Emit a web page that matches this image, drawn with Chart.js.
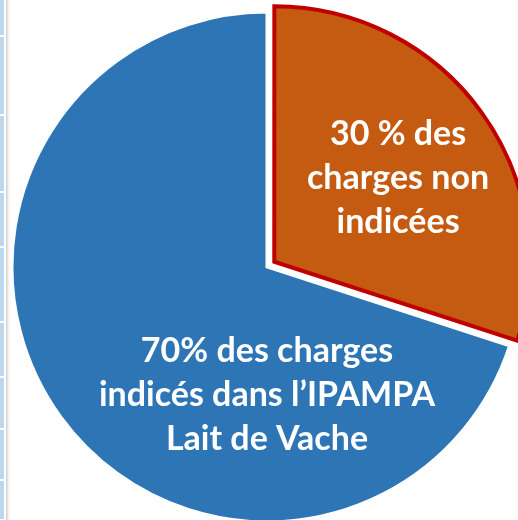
<!DOCTYPE html>
<html>
<head>
<meta charset="utf-8">
<script src="https://cdn.jsdelivr.net/npm/chart.js@4.4.1/dist/chart.umd.min.js"></script>
<style>
  html, body { margin: 0; padding: 0; background: #ffffff; overflow: hidden; }
  #wrap { position: relative; width: 518px; height: 520px; }
  #strip { position: absolute; left: 0; top: 0; width: 4px; height: 520px; }
  .seg { position: absolute; left: 0; width: 4px; background: #BDD7EE; }
  #shadow { position: absolute; left: 6px; top: 0; width: 5px; height: 520px;
    background: linear-gradient(to right, rgba(200,200,200,0.9), rgba(235,235,235,0.6), rgba(255,255,255,0)); }
  canvas { position: absolute; left: 0; top: 0; }
</style>
</head>
<body>
<div id="wrap">
  <div id="strip"></div>
  <div id="shadow"></div>
  <canvas id="c" width="518" height="520"></canvas>
</div>
<script>
// ---- data ----
const categories = ["Charges non indicées", "Charges indicées dans l'IPAMPA Lait de Vache"];
const values = [30, 70];
const sliceLabels = [
  ["30 % des", "charges non", "indicées"],
  ["70% des charges", "indicés dans l\u2019IPAMPA", "Lait de Vache"]
];
const sliceColors = ["#C55A11", "#2E75B6"];
const sliceBorders = ["#C00000", "#FFFFFF"];
const sliceBorderWidths = [4, 3];
const sliceOffsets = [36, 0]; // Chart.js v4 translates arcs by offset/4

// decorative left strip (slide background)
const stripGaps = [0, 36, 115, 192, 247, 322, 377, 429, 480, 520];
(function () {
  const strip = document.getElementById('strip');
  for (let i = 0; i < stripGaps.length - 1; i++) {
    const d = document.createElement('div');
    d.className = 'seg';
    const top = stripGaps[i] + (i === 0 ? 0 : 1);
    d.style.top = top + 'px';
    d.style.height = (stripGaps[i + 1] - top - 1) + 'px';
    strip.appendChild(d);
  }
})();

const labelFont = 'bold 34px Lato, "Open Sans", sans-serif';
const lineHeight = 44;

const labelPlugin = {
  id: 'sliceLabels',
  afterDatasetsDraw(chart) {
    const meta = chart.getDatasetMeta(0);
    const ctx = chart.ctx;
    ctx.save();
    ctx.fillStyle = '#FFFFFF';
    ctx.font = labelFont;
    ctx.textAlign = 'center';
    ctx.textBaseline = 'alphabetic';
    meta.data.forEach((arc, i) => {
      const p = arc.getProps(['x', 'y', 'startAngle', 'endAngle', 'outerRadius'], true);
      const off = sliceOffsets[i] / 4;
      const mid = (p.startAngle + p.endAngle) / 2;
      let cx, cy;
      if (i === 0) {
        const r = p.outerRadius * 0.6;
        cx = p.x + Math.cos(mid) * (r + off);
        cy = p.y + Math.sin(mid) * (r + off) + 5;
      } else {
        cx = p.x;
        cy = p.y + p.outerRadius * 0.51 - 3;
      }
      const lines = sliceLabels[i];
      const startBase = cy - ((lines.length - 1) * lineHeight) / 2 + 12;
      lines.forEach((t, k) => ctx.fillText(t, cx, startBase + k * lineHeight));
    });
    ctx.restore();
  }
};

new Chart(document.getElementById('c'), {
  type: 'pie',
  data: {
    labels: categories,
    datasets: [{
      data: values,
      backgroundColor: sliceColors,
      borderColor: sliceBorders,
      borderWidth: sliceBorderWidths,
      offset: sliceOffsets,
      hoverOffset: 0,
      borderJoinStyle: 'miter'
    }]
  },
  options: {
    responsive: false,
    animation: false,
    radius: 255,
    rotation: 0,
    layout: { padding: { left: 16, top: 14, right: 0, bottom: 0 } },
    plugins: {
      legend: { display: false },
      tooltip: { enabled: false }
    }
  },
  plugins: [labelPlugin]
});
</script>
</body>
</html>
